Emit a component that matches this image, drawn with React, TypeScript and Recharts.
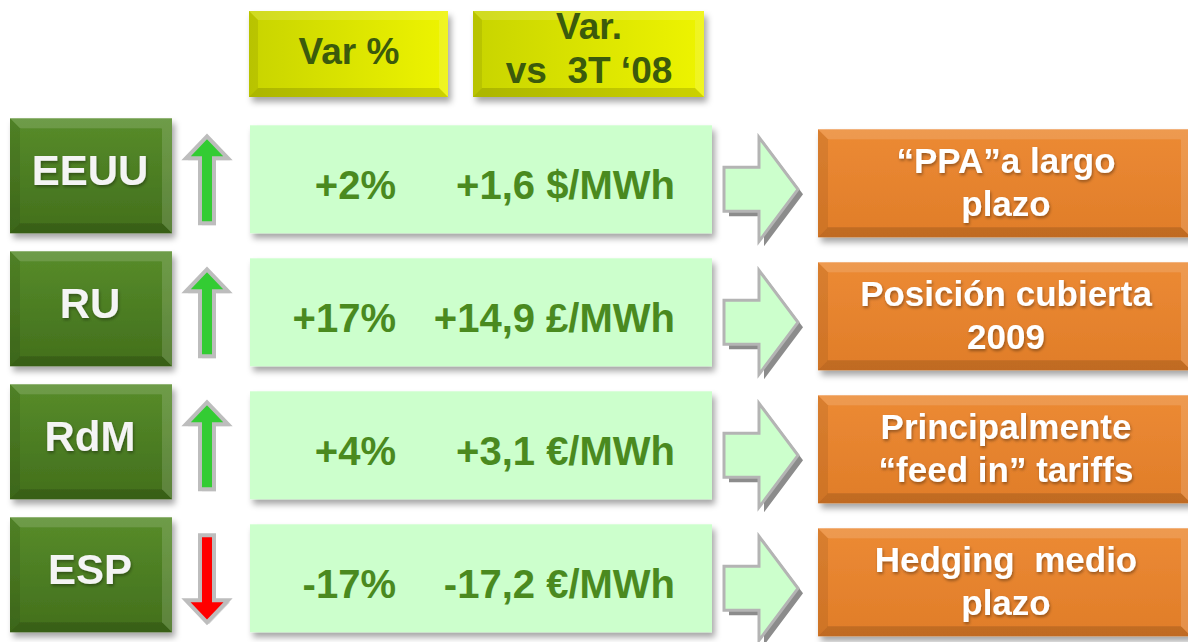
import React from 'react';
import { ComposedChart, Bar, XAxis, YAxis, Customized } from 'recharts';

// ---- Data ----
const regions = ['EEUU', 'RU', 'RdM', 'ESP'];
const pctChange = [2, 17, 4, -17];
const absChange = [1.6, 14.9, 3.1, -17.2];
const units = ['$/MWh', '£/MWh', '€/MWh', '€/MWh'];
const strategies = [
  ['“PPA”a largo', 'plazo'],
  ['Posición cubierta', '2009'],
  ['Principalmente', '“feed in” tariffs'],
  ['Hedging  medio', 'plazo'],
];
const headerLabels = [['Var %'], ['Var.', 'vs  3T ‘08']];

const data = regions.map((region, i) => ({
  region,
  pct: pctChange[i],
  abs: absChange[i],
  unit: units[i],
  strategy: strategies[i],
}));

const FONT = '"Liberation Sans", Arial, Helvetica, sans-serif';
const sign = (v: number) => (v > 0 ? '+' : '');
const fmtPct = (v: number) => `${sign(v)}${v}%`;
const fmtAbs = (v: number, u: string) => `${sign(v)}${v.toFixed(1).replace('.', ',')} ${u}`;

const BevelBox = ({ x, y, w, h, b, grad, shadow = true }: any) => (
  <g filter={shadow ? 'url(#boxShadow)' : undefined}>
    <rect x={x} y={y} width={w} height={h} fill={`url(#${grad})`} />
    <polygon points={`${x},${y} ${x + w},${y} ${x + w - b},${y + b} ${x + b},${y + b}`} fill="#fff" opacity={0.14} />
    <polygon points={`${x},${y} ${x + b},${y + b} ${x + b},${y + h - b} ${x},${y + h}`} fill="#000" opacity={0.08} />
    <polygon points={`${x + w},${y} ${x + w},${y + h} ${x + w - b},${y + h - b} ${x + w - b},${y + b}`} fill="#fff" opacity={0.14} />
    <polygon points={`${x},${y + h} ${x + w},${y + h} ${x + w - b},${y + h - b} ${x + b},${y + h - b}`} fill="#000" opacity={0.14} />
  </g>
);

const Defs = () => (
  <defs>
    <filter id="boxShadow" x="-10%" y="-10%" width="130%" height="140%">
      <feDropShadow dx="3" dy="5" stdDeviation="3" floodColor="#000" floodOpacity="0.35" />
    </filter>
    <filter id="textShadow" x="-10%" y="-20%" width="120%" height="150%">
      <feDropShadow dx="1" dy="2" stdDeviation="1.5" floodColor="#000" floodOpacity="0.35" />
    </filter>
    <linearGradient id="gGreen" x1="0" y1="0" x2="0" y2="1">
      <stop offset="0" stopColor="#578C2A" />
      <stop offset="1" stopColor="#426F1C" />
    </linearGradient>
    <linearGradient id="gYellow" x1="0" y1="0" x2="1" y2="0">
      <stop offset="0" stopColor="#C8D400" />
      <stop offset="1" stopColor="#EEF400" />
    </linearGradient>
    <linearGradient id="gOrange" x1="0" y1="0" x2="0" y2="1">
      <stop offset="0" stopColor="#EC8A34" />
      <stop offset="1" stopColor="#E07D29" />
    </linearGradient>
  </defs>
);

const Header = () => {
  const boxes = [
    { x: 249, w: 199, cx: 349 },
    { x: 473, w: 231, cx: 589 },
  ];
  return (
    <g>
      <Defs />
      {boxes.map((bx, i) => {
        const lines = headerLabels[i];
        const baselines = lines.length === 1 ? [64] : [39, 83];
        return (
          <g key={i}>
            <BevelBox x={bx.x} y={11} w={bx.w} h={86} b={9} grad="gYellow" />
            {lines.map((t, j) => (
              <text key={j} x={bx.cx} y={baselines[j]} textAnchor="middle" fontFamily={FONT} fontWeight="bold"
                fontSize={37} fill="#3B5A0C" style={{ whiteSpace: 'pre' }}>{t}</text>
            ))}
          </g>
        );
      })}
    </g>
  );
};

const RowShape = (props: any) => {
  const { y, height, payload } = props;
  const c = y + height / 2;
  const up = payload.pct >= 0;
  // small direction arrow
  const ax = 207;
  const top = c - 40;
  const bot = c + 47;
  const hw = 21;
  const sw = 7;
  const hh = 22;
  const arrowPts = up
    ? [[ax, top], [ax + hw, top + hh], [ax + sw, top + hh], [ax + sw, bot], [ax - sw, bot], [ax - sw, top + hh], [ax - hw, top + hh]]
    : [[ax, bot], [ax + hw, bot - hh], [ax + sw, bot - hh], [ax + sw, top], [ax - sw, top], [ax - sw, bot - hh], [ax - hw, bot - hh]];
  // block arrow
  const bc = c + 13;
  const bx0 = 724, bx1 = 759, bx2 = 798;
  const blockPts = [[bx0, bc - 22], [bx1, bc - 22], [bx1, bc - 52], [bx2, bc], [bx1, bc + 52], [bx1, bc + 22], [bx0, bc + 22]];
  const toStr = (pts: number[][], dx = 0, dy = 0) => pts.map(p => `${p[0] + dx},${p[1] + dy}`).join(' ');
  const oc = c + 7;
  return (
    <g>
      {/* region label */}
      <BevelBox x={10} y={c - 58} w={162} h={115} b={10} grad="gGreen" />
      <text x={90} y={c + 9} textAnchor="middle" fontFamily={FONT} fontWeight="bold" fontSize={42}
        fill="#F4F4F4" filter="url(#textShadow)">{payload.region}</text>
      {/* up/down arrow */}
      <polygon points={toStr(arrowPts, 2, 2)} fill="#000" opacity={0.15} />
      <polygon points={toStr(arrowPts)} fill={up ? '#33CC33' : '#FF0000'} stroke="#BDBDBD" strokeWidth={4} strokeLinejoin="miter" />
      {/* values box */}
      <rect x={250} y={c - 51} width={462} height={108} fill="#CCFFCC" filter="url(#boxShadow)" />
      <text x={396} y={c + 23} textAnchor="end" fontFamily={FONT} fontWeight="bold" fontSize={40} fill="#4A8A1F">
        {fmtPct(payload.pct)}
      </text>
      <text x={675} y={c + 23} textAnchor="end" fontFamily={FONT} fontWeight="bold" fontSize={40} fill="#4A8A1F">
        {fmtAbs(payload.abs, payload.unit)}
      </text>
      {/* block arrow */}
      <polygon points={toStr(blockPts, 5, 5)} fill="#8C8C8C" />
      <polygon points={toStr(blockPts)} fill="#CCFFCC" stroke="#B4B4B4" strokeWidth={3} strokeLinejoin="miter" />
      {/* strategy box */}
      <BevelBox x={818} y={oc - 54} w={373} h={108} b={10} grad="gOrange" />
      {payload.strategy.map((t: string, j: number) => (
        <text key={j} x={1006} y={oc + (j === 0 ? -10 : 33)} textAnchor="middle" fontFamily={FONT} fontWeight="bold"
          fontSize={35} fill="#FFFFFF" filter="url(#textShadow)" style={{ whiteSpace: 'pre' }}>{t}</text>
      ))}
    </g>
  );
};

export default function App() {
  return (
    <div style={{ position: 'absolute', left: 0, top: 0, width: 1188, height: 642, background: '#fff', overflow: 'hidden' }}>
      <ComposedChart width={1188} height={642} data={data} layout="vertical"
        margin={{ top: 110, right: 0, bottom: 0, left: 0 }} style={{ overflow: 'visible' }}>
        <XAxis type="number" hide domain={[-20, 20]} />
        <YAxis type="category" dataKey="region" hide />
        <Customized component={Header} />
        <Bar dataKey="pct" isAnimationActive={false} shape={RowShape} />
      </ComposedChart>
    </div>
  );
}
